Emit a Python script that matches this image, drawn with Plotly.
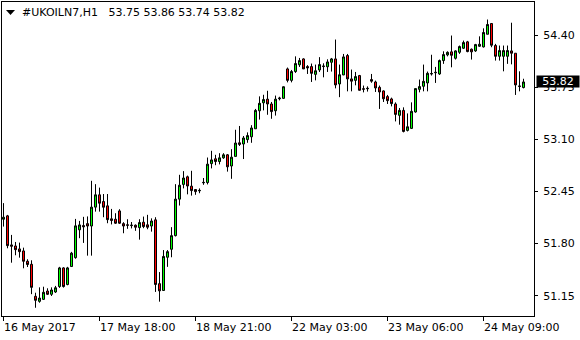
import plotly.graph_objects as go

opens = [52.105, 52.147, 51.784, 51.771, 51.734, 51.709, 51.580, 51.542, 51.142, 51.079,
         51.104, 51.208, 51.167, 51.196, 51.264, 51.497, 51.289, 51.514, 51.625, 51.973,
         52.026, 52.050, 52.020, 52.256, 52.410, 52.326, 52.272, 52.110, 52.105, 52.209,
         52.050, 52.035, 52.025, 52.030, 52.000, 52.068, 52.035, 52.020, 52.097, 51.300,
         51.215, 51.630, 51.730, 51.900, 52.356, 52.540, 52.635, 52.518, 52.476, 52.460,
         52.560, 52.563, 52.800, 52.860, 52.826, 52.872, 52.910, 52.770, 52.890, 53.060,
         53.045, 53.100, 53.135, 53.235, 53.460, 53.560, 53.605, 53.545, 53.460, 53.610,
         53.615, 53.983, 53.840, 53.950, 54.035, 54.108, 54.012, 54.012, 53.915, 53.970,
         54.012, 54.010, 54.066, 54.108, 53.795, 53.908, 54.150, 53.858, 53.840, 53.900,
         53.735, 53.735, 53.850, 53.820, 53.753, 53.708, 53.637, 53.608, 53.545, 53.403,
         53.465, 53.215, 53.240, 53.445, 53.728, 53.766, 53.808, 53.920, 53.935, 53.920,
         54.087, 54.158, 54.196, 54.116, 54.191, 54.241, 54.321, 54.229, 54.208, 54.266,
         54.258, 54.416, 54.550, 54.275, 54.141, 54.141, 54.141, 54.208, 54.179, 53.770,
         53.750]
highs = [52.306, 52.159, 51.909, 51.821, 51.813, 51.750, 51.605, 51.592, 51.187, 51.254,
         51.262, 51.242, 51.254, 51.272, 51.510, 51.506, 51.510, 51.697, 52.109, 52.084,
         52.135, 52.140, 52.585, 52.543, 52.500, 52.420, 52.420, 52.234, 52.180, 52.230,
         52.068, 52.105, 52.070, 52.040, 52.105, 52.138, 52.160, 52.116, 52.130, 51.445,
         51.720, 51.720, 52.006, 52.543, 52.660, 52.706, 52.650, 52.710, 52.480, 52.490,
         52.620, 52.876, 52.960, 52.910, 52.930, 52.930, 52.920, 52.980, 53.223, 53.270,
         53.145, 53.190, 53.280, 53.483, 53.640, 53.660, 53.710, 53.570, 53.650, 53.635,
         53.765, 54.000, 53.970, 54.140, 54.120, 54.116, 54.030, 54.050, 54.037, 54.130,
         54.053, 54.103, 54.120, 54.350, 54.037, 54.170, 54.170, 53.975, 53.945, 53.908,
         53.775, 53.765, 53.920, 53.837, 53.775, 53.715, 53.658, 53.624, 53.565, 53.495,
         53.503, 53.427, 53.565, 53.737, 53.850, 54.037, 53.950, 54.160, 54.008, 54.100,
         54.203, 54.203, 54.400, 54.216, 54.275, 54.337, 54.333, 54.238, 54.296, 54.390,
         54.490, 54.600, 54.550, 54.296, 54.275, 54.275, 54.275, 54.560, 54.179, 53.953,
         53.860]
lows = [52.013, 51.742, 51.562, 51.655, 51.625, 51.492, 51.508, 51.169, 50.999, 51.062,
        51.096, 51.158, 51.146, 51.184, 51.247, 51.251, 51.280, 51.510, 51.612, 51.868,
        51.809, 51.650, 51.650, 52.200, 52.200, 52.130, 52.055, 52.040, 52.046, 52.046,
        51.930, 51.985, 51.990, 51.960, 51.850, 51.993, 51.980, 51.950, 51.197, 51.075,
        51.215, 51.510, 51.630, 51.890, 52.276, 52.490, 52.416, 52.400, 52.410, 52.430,
        52.535, 52.540, 52.740, 52.780, 52.790, 52.860, 52.700, 52.610, 52.890, 53.020,
        52.857, 53.060, 53.060, 53.235, 53.350, 53.465, 53.410, 53.360, 53.400, 53.590,
        53.610, 53.815, 53.815, 53.933, 54.008, 53.983, 53.920, 53.820, 53.840, 53.945,
        53.878, 53.945, 53.950, 53.740, 53.630, 53.905, 53.703, 53.703, 53.778, 53.712,
        53.690, 53.700, 53.810, 53.695, 53.483, 53.570, 53.545, 53.515, 53.327, 53.286,
        53.190, 53.202, 53.232, 53.436, 53.690, 53.703, 53.703, 53.900, 53.808, 53.908,
        54.046, 54.140, 54.003, 54.100, 54.171, 54.233, 54.191, 54.100, 54.196, 54.258,
        54.250, 54.416, 54.254, 54.087, 54.087, 53.953, 54.046, 54.040, 53.658, 53.703,
        53.740]
closes = [52.130, 51.775, 51.768, 51.725, 51.700, 51.580, 51.539, 51.254, 51.092, 51.120,
          51.192, 51.167, 51.221, 51.249, 51.497, 51.264, 51.497, 51.681, 52.022, 52.034,
          52.010, 52.020, 52.256, 52.410, 52.305, 52.255, 52.100, 52.090, 52.055, 52.055,
          52.020, 52.030, 52.030, 52.005, 52.063, 52.013, 52.005, 52.083, 51.290, 51.210,
          51.640, 51.700, 51.900, 52.356, 52.530, 52.620, 52.520, 52.463, 52.450, 52.465,
          52.565, 52.793, 52.846, 52.826, 52.872, 52.910, 52.760, 52.880, 53.057, 53.040,
          53.120, 53.150, 53.245, 53.465, 53.553, 53.600, 53.545, 53.450, 53.605, 53.618,
          53.760, 53.840, 53.950, 54.050, 54.087, 53.983, 53.996, 53.928, 53.960, 54.037,
          54.018, 54.070, 54.108, 53.783, 53.910, 54.133, 53.858, 53.830, 53.887, 53.716,
          53.730, 53.740, 53.830, 53.745, 53.695, 53.610, 53.587, 53.550, 53.415, 53.465,
          53.202, 53.260, 53.453, 53.737, 53.762, 53.828, 53.928, 53.925, 53.940, 54.087,
          54.162, 54.190, 54.153, 54.208, 54.262, 54.312, 54.200, 54.196, 54.287, 54.291,
          54.438, 54.538, 54.279, 54.141, 54.212, 54.212, 54.212, 54.179, 53.783, 53.765,
          53.820]

time_labels = ["16 May 2017", "17 May 18:00", "18 May 21:00", "22 May 03:00", "23 May 06:00", "24 May 09:00"]
time_label_bars = [0, 24, 48, 72, 96, 120]
price_ticks = [51.15, 51.80, 52.45, 53.10, 53.75, 54.40]
symbol = "#UKOILN7,H1"

FONT = "DejaVu Sans"
W, H = 580, 340
ML, MR, MT, MB = 2, 46, 2, 24
PW = W - ML - MR
PH = H - MT - MB


def px(x):
    return (x - ML) / PW


def py(y):
    return (H - MB - y) / PH


bars = list(range(len(opens)))

fig = go.Figure(go.Candlestick(
    x=bars, open=opens, high=highs, low=lows, close=closes,
    increasing=dict(line=dict(color="black", width=1), fillcolor="#00FF00"),
    decreasing=dict(line=dict(color="black", width=1), fillcolor="#FF0000"),
    whiskerwidth=0, hoverinfo="skip",
))

annotations = []
for b, lab in zip(time_label_bars, time_labels):
    annotations.append(dict(x=b, xref="x", y=0, yref="paper", yanchor="top", xanchor="left",
                            xshift=-2, yshift=-3, text=lab, showarrow=False,
                            font=dict(family=FONT, size=11, color="black")))

last_o, last_h, last_l, last_c = opens[-1], highs[-1], lows[-1], closes[-1]
title_txt = symbol + "\u00a0\u00a0 " + " ".join(f"{v:.2f}" for v in (last_o, last_h, last_l, last_c))
annotations.append(dict(x=px(20), xref="paper", y=py(13), yref="paper", xanchor="left", yanchor="middle",
                        text=title_txt, showarrow=False,
                        font=dict(family=FONT, size=11, color="black")))
annotations.append(dict(x=1, xref="paper", xshift=2, y=last_c, yref="y", xanchor="left", yanchor="middle",
                        text=f"{last_c:.2f}", showarrow=False, bgcolor="black", borderpad=0,
                        width=42, height=11, align="center",
                        font=dict(family=FONT, size=11, color="white")))

shapes = [dict(type="path", xref="paper", yref="paper",
               path=f"M {px(6)} {py(10)} L {px(15)} {py(10)} L {px(10.5)} {py(15)} Z",
               fillcolor="black", line=dict(width=0))]

fig.update_layout(
    width=W, height=H, margin=dict(l=ML, r=MR, t=MT, b=MB),
    paper_bgcolor="white", plot_bgcolor="white", showlegend=False,
    boxgap=0.5, boxgroupgap=0,
    annotations=annotations, shapes=shapes,
    xaxis=dict(range=[-0.375, 132.625], rangeslider=dict(visible=False), showgrid=False,
               zeroline=False, showline=True, mirror=True, linecolor="black", linewidth=1,
               ticks="outside", tickvals=time_label_bars, ticklen=4, tickcolor="black",
               showticklabels=False, fixedrange=True),
    yaxis=dict(range=[50.896, 54.819], side="right", showgrid=False, zeroline=False,
               showline=True, mirror=True, linecolor="black", linewidth=1,
               ticks="outside", ticklen=3, tickcolor="black", ticklabelstandoff=3,
               tickvals=price_ticks, ticktext=[f"{v:.2f}" for v in price_ticks],
               tickfont=dict(family=FONT, size=11, color="black"), fixedrange=True),
)

fig.write_html("out.html")
